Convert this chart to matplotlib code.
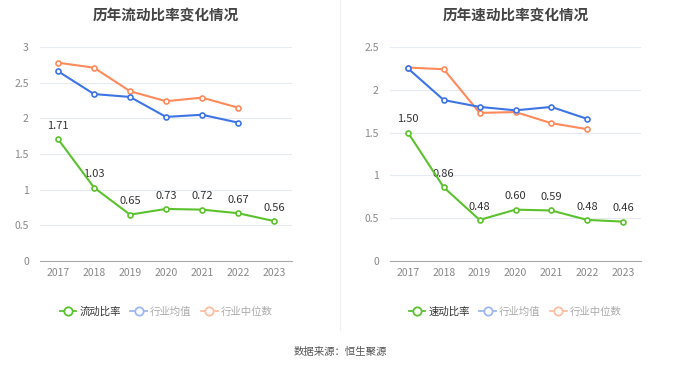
import matplotlib.pyplot as plt
from matplotlib.lines import Line2D

plt.rcParams['font.family'] = ['Noto Sans CJK SC', 'DejaVu Sans']

years = ['2017', '2018', '2019', '2020', '2021', '2022', '2023']

# 流动比率
current_ratio = [1.71, 1.03, 0.65, 0.73, 0.72, 0.67, 0.56]
current_avg = [2.66, 2.34, 2.30, 2.02, 2.05, 1.94]
current_median = [2.78, 2.71, 2.38, 2.24, 2.29, 2.15]

# 速动比率
quick_ratio = [1.50, 0.86, 0.48, 0.60, 0.59, 0.48, 0.46]
quick_avg = [2.25, 1.88, 1.80, 1.76, 1.80, 1.66]
quick_median = [2.26, 2.24, 1.73, 1.74, 1.61, 1.54]

GREEN = '#5bc22d'
BLUE = '#3d74e6'
ORANGE = '#ff8a5c'
W, H = 680, 367

fig = plt.figure(figsize=(6.8, 3.67), dpi=100)


def px_axes(x0, x1, y_top, y_bottom):
    return fig.add_axes([x0 / W, 1 - y_bottom / H, (x1 - x0) / W, (y_bottom - y_top) / H])


def draw_panel(ax, title, main, avg, median, ymax, yticks, ytick_labels):
    x = list(range(len(years)))
    ax.plot(x[:len(median)], median, color=ORANGE, lw=1.5, marker='o', ms=3.6,
            mfc='white', mec=ORANGE, mew=1.2, zorder=3)
    ax.plot(x[:len(avg)], avg, color=BLUE, lw=1.5, marker='o', ms=3.6,
            mfc='white', mec=BLUE, mew=1.2, zorder=4)
    ax.plot(x, main, color=GREEN, lw=1.5, marker='o', ms=3.6,
            mfc='white', mec=GREEN, mew=1.2, zorder=5)
    for xi, v in zip(x, main):
        ax.annotate(f'{v:.2f}', (xi, v), xytext=(0, 6), textcoords='offset points',
                    ha='center', va='bottom', fontsize=8, color='#333333')
    ax.set_xlim(-0.5, len(years) - 0.5)
    ax.set_ylim(0, ymax)
    ax.set_xticks(x)
    ax.set_xticklabels(years)
    ax.set_yticks(yticks)
    ax.set_yticklabels(ytick_labels)
    ax.tick_params(axis='both', length=0, labelsize=7.5, colors='#888888')
    ax.tick_params(axis='x', pad=5)
    ax.tick_params(axis='y', pad=8)
    for s in ['top', 'right', 'left']:
        ax.spines[s].set_visible(False)
    ax.spines['bottom'].set_color('#aaaaaa')
    ax.grid(axis='y', color='#e6eaf3', lw=0.8)
    ax.set_axisbelow(True)
    ax.set_title(title, fontsize=10.5, fontweight='bold', color='#444444', pad=0,
                 y=1.0 + 27 / 214)


ax1 = px_axes(40, 292, 47, 261)
draw_panel(ax1, '历年流动比率变化情况', current_ratio, current_avg, current_median,
           3, [0, 0.5, 1, 1.5, 2, 2.5, 3], ['0', '0.5', '1', '1.5', '2', '2.5', '3'])

ax2 = px_axes(390, 641, 47, 261)
draw_panel(ax2, '历年速动比率变化情况', quick_ratio, quick_avg, quick_median,
           2.5, [0, 0.5, 1, 1.5, 2, 2.5], ['0', '0.5', '1', '1.5', '2', '2.5'])

# divider
fig.add_artist(Line2D([340 / W, 340 / W], [1 - 330 / H, 1.0], color='#f0f0f0', lw=0.8))


def make_legend(names, cx):
    colors = [GREEN, '#9db8f0', '#ffbea3']
    handles = [Line2D([], [], color=c, lw=1.3, marker='o', ms=6, mfc='white', mec=c, mew=1.3)
               for c in colors]
    leg = fig.legend(handles, names, loc='center', bbox_to_anchor=(cx / W, 1 - 312 / H),
                     ncol=3, frameon=False, fontsize=7.5, handlelength=1.6, handletextpad=0.3,
                     columnspacing=0.9)
    for t, c in zip(leg.get_texts(), ['#333333', '#aaaaaa', '#aaaaaa']):
        t.set_color(c)


make_legend(['流动比率', '行业均值', '行业中位数'], 166)
make_legend(['速动比率', '行业均值', '行业中位数'], 515)

fig.text(0.5, 1 - 352 / H, '数据来源：恒生聚源', ha='center', va='center', fontsize=7.5, color='#555555')

fig.savefig('out.png', dpi=100)
